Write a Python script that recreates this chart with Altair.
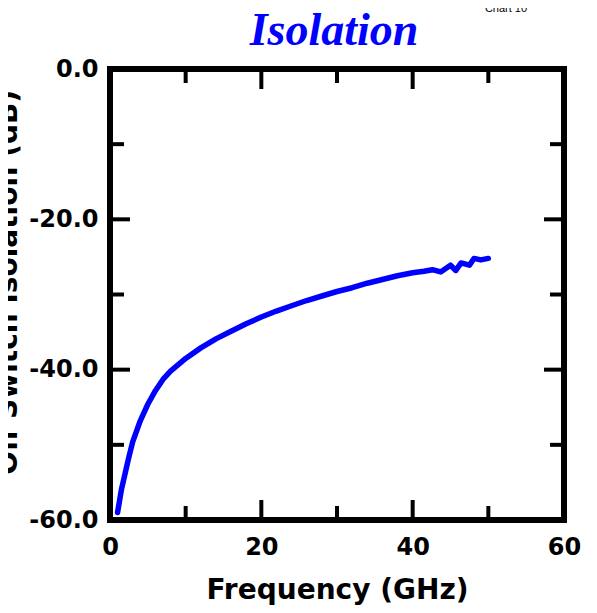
import altair as alt
import pandas as pd

# ---- data ----
freq_ghz = [1.0, 1.5, 2.0, 2.5, 3.0, 4.0, 5.0, 6.0, 7.0, 8.0, 10.0, 12.0, 14.0, 16.0,
            18.0, 20.0, 22.0, 24.0, 26.0, 28.0, 30.0, 32.0, 34.0, 36.0, 38.0, 40.0,
            41.5, 42.6, 43.7, 45.0, 45.7, 46.4, 47.5, 48.1, 49.0, 50.0]
isolation_db = [-59.0, -56.0, -53.8, -51.6, -49.6, -46.8, -44.6, -42.8, -41.3, -40.2,
                -38.5, -37.1, -35.9, -34.9, -33.9, -33.0, -32.2, -31.5, -30.8, -30.2,
                -29.6, -29.1, -28.5, -28.0, -27.5, -27.1, -26.9, -26.7, -27.0, -26.1,
                -26.8, -25.8, -26.1, -25.2, -25.4, -25.2]

x_major = [0, 20, 40, 60]
x_minor = [10, 30, 50]
y_major = [0, -20, -40, -60]
y_minor = [-10, -30, -50]

title_text = "Isolation"
x_title = "Frequency (GHz)"
y_title = "Off Switch Isolation (dB)"
corner_note = "Chart 10"

W, H = 454, 451
MAJ, MIN = 20, 14

df = pd.DataFrame({"f": freq_ghz, "db": isolation_db})

xs = alt.Scale(domain=[0, 60], nice=False, zero=False)
ys = alt.Scale(domain=[-60, 0], nice=False, zero=False)

axis_common = dict(
    grid=False, ticks=False, domain=False,
    labelFont="DejaVu Sans", labelFontWeight="bold", labelFontSize=24, labelColor="black",
    titleFont="DejaVu Sans", titleFontWeight="bold", titleFontSize=28, titleColor="black",
)

line = alt.Chart(df).mark_line(color="#0000FF", strokeWidth=5.5, strokeCap="round",
                               strokeJoin="round").encode(
    x=alt.X("f:Q", scale=xs, title=x_title,
            axis=alt.Axis(values=x_major, labelPadding=15, titlePadding=17,
                          labelFlush=False, **axis_common)),
    y=alt.Y("db:Q", scale=ys, title=y_title,
            axis=alt.Axis(values=y_major, labelPadding=12,
                          labelExpr="replace(format(datum.value, '.1f'), '\u2212', '-')",
                          labelFlush=False, titleX=-88, titleY=213, **axis_common)),
)

xmaj = pd.DataFrame({"v": x_major})
xmin = pd.DataFrame({"v": x_minor})
ymaj = pd.DataFrame({"v": y_major})
ymin = pd.DataFrame({"v": y_minor})

def xticks(d, ln):
    b = alt.Chart(d).mark_rule(color="black", strokeWidth=4)
    bottom = b.encode(x=alt.X("v:Q", scale=xs), y=alt.value(H), y2=alt.value(H - ln))
    top = b.encode(x=alt.X("v:Q", scale=xs), y=alt.value(0), y2=alt.value(ln))
    return [bottom, top]

def yticks(d, ln):
    b = alt.Chart(d).mark_rule(color="black", strokeWidth=4)
    left = b.encode(y=alt.Y("v:Q", scale=ys), x=alt.value(0), x2=alt.value(ln))
    right = b.encode(y=alt.Y("v:Q", scale=ys), x=alt.value(W), x2=alt.value(W - ln))
    return [left, right]

note = alt.Chart(pd.DataFrame({"t": [corner_note]})).mark_text(
    font="Liberation Sans", fontSize=11, color="black", align="center", baseline="alphabetic"
).encode(text="t:N", x=alt.value(396), y=alt.value(-57))

heading = alt.Chart(pd.DataFrame({"t": [title_text]})).mark_text(
    font="Liberation Serif", fontSize=46, fontStyle="italic", fontWeight="bold",
    color="#0000FF", align="center", baseline="alphabetic"
).encode(text="t:N", x=alt.value(W / 2 - 3), y=alt.value(-24))

layers = [line] + xticks(xmaj, MAJ) + xticks(xmin, MIN) + yticks(ymaj, MAJ) + yticks(ymin, MIN) + [note, heading]

chart = alt.layer(*layers).properties(
    width=W, height=H,
    autosize=alt.AutoSizeParams(type="none"),
    padding={"left": 102, "top": 61, "right": 20, "bottom": 85},
).configure(background="white").configure_view(stroke="black", strokeWidth=6)

chart.save("out.html", embed_options={"renderer": "svg", "actions": False})
